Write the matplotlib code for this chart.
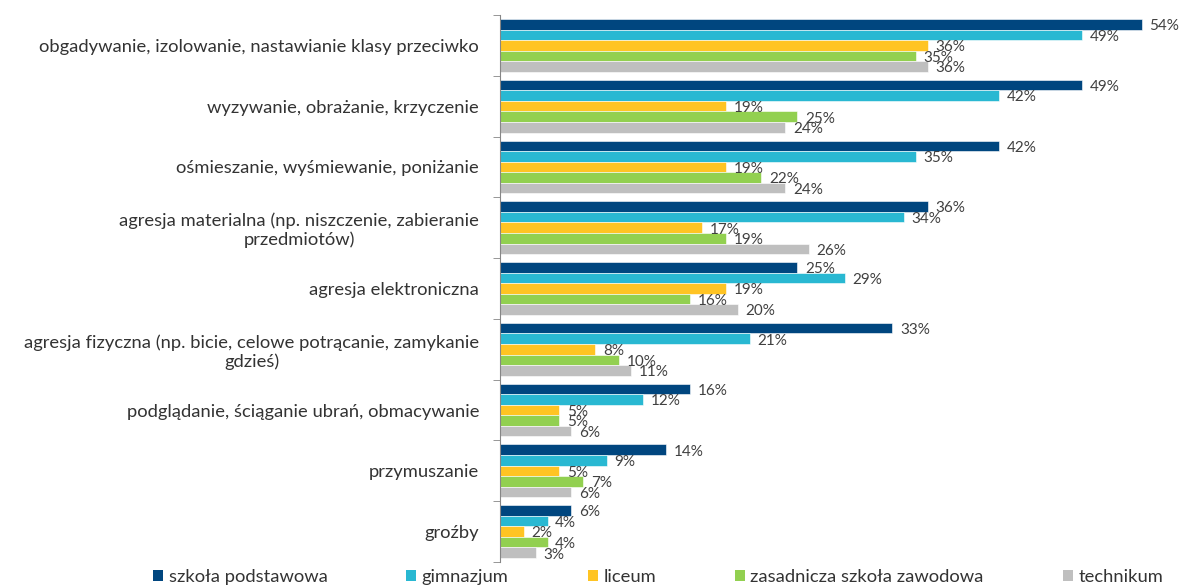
import numpy as np
import matplotlib.pyplot as plt
from matplotlib.patches import Patch

plt.rcParams['font.family'] = ['Lato', 'DejaVu Sans']

categories = [
    'obgadywanie, izolowanie, nastawianie klasy przeciwko',
    'wyzywanie, obrażanie, krzyczenie',
    'ośmieszanie, wyśmiewanie, poniżanie',
    'agresja materialna (np. niszczenie, zabieranie\nprzedmiotów)',
    'agresja elektroniczna',
    'agresja fizyczna (np. bicie, celowe potrącanie, zamykanie\ngdzieś)',
    'podglądanie, ściąganie ubrań, obmacywanie',
    'przymuszanie',
    'groźby',
]
series_names = ['szkoła podstawowa', 'gimnazjum', 'liceum',
                'zasadnicza szkoła zawodowa', 'technikum']
podstawowa = [54, 49, 42, 36, 25, 33, 16, 14, 6]
gimnazjum = [49, 42, 35, 34, 29, 21, 12, 9, 4]
liceum = [36, 19, 19, 17, 19, 8, 5, 5, 2]
zawodowa = [35, 25, 22, 19, 16, 10, 5, 7, 4]
technikum = [36, 24, 24, 26, 20, 11, 6, 6, 3]
series = [podstawowa, gimnazjum, liceum, zawodowa, technikum]
colors = ['#00467F', '#29B8D2', '#FFC423', '#92D050', '#BFBFBF']

W, H = 1181, 585
fig = plt.figure(figsize=(W / 100, H / 100), dpi=100)
ax = fig.add_axes([500 / W, 1 - 562 / H, 681 / W, 547 / H])

y = np.arange(len(categories))
h = 0.174
for j, (vals, col) in enumerate(zip(series, colors)):
    pos = y + (j - 2) * h
    ax.barh(pos, vals, height=h, color=col, edgecolor='white', linewidth=0.4)
    for p, v in zip(pos, vals):
        ax.text(v + 0.65, p + 0.03, f'{v}%', va='center', ha='left',
                fontsize=11, color='#404040')

ax.set_xlim(0, 57.3)
ax.set_ylim(len(categories) - 0.5, -0.5)
ax.set_yticks(y)
ax.set_yticklabels(categories, fontsize=13.2, color='#333333',
                   multialignment='center')
ax.set_yticks(np.arange(-0.5, len(categories)), minor=True)
ax.tick_params(axis='y', which='major', length=0, pad=15)
ax.tick_params(axis='y', which='minor', length=5, color='#868686')
ax.xaxis.set_visible(False)
for s in ['top', 'right', 'bottom']:
    ax.spines[s].set_visible(False)
ax.spines['left'].set_color('#868686')

handles = [Patch(facecolor=c, label=n) for c, n in zip(colors, series_names)]
fig.legend(handles=handles, loc='center', bbox_to_anchor=(658 / W, 8 / H),
           ncol=5, frameon=False, fontsize=13.2, handlelength=0.55,
           handleheight=0.55, handletextpad=0.3, columnspacing=4.3,
           labelcolor='#333333', borderpad=0)

fig.savefig('out.png', dpi=100)
